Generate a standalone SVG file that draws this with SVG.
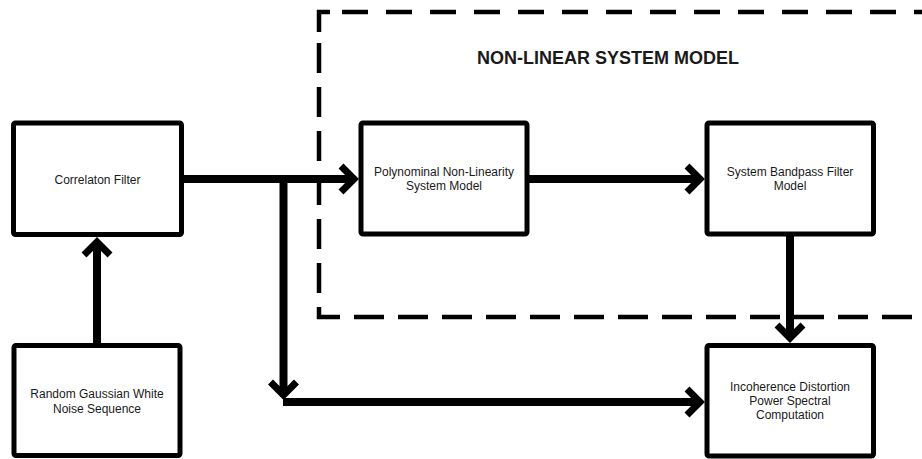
<svg xmlns="http://www.w3.org/2000/svg" width="922" height="459" viewBox="0 0 922 459">
<style>
.box{fill:#fff;stroke:#000;stroke-width:5}
.lbl{font-family:"Liberation Sans",Arial,sans-serif;font-size:12px;fill:#1a1a1a;text-anchor:middle}
.title{font-family:"Liberation Sans",Arial,sans-serif;font-size:18px;font-weight:bold;fill:#1a1a1a;text-anchor:middle}
.dash{fill:none;stroke:#000;stroke-width:4.5}
.conn{fill:none;stroke:#000;stroke-width:8;marker-end:url(#arr)}
</style>
<defs>
<marker id="arr" markerUnits="userSpaceOnUse" markerWidth="40" markerHeight="40" viewBox="-20 -20 40 40" refX="0" refY="0" orient="auto" overflow="visible">
<path d="M-13,-13 L0,0 L-13,13" fill="none" stroke="#000" stroke-width="7" stroke-linejoin="miter"/>
</marker>
</defs>
<rect width="922" height="459" fill="#fff"/>
<g id="group-nonlinear">
<path class="dash" d="M319,32 V12 H330"/>
<path class="dash" d="M342,12 H922" stroke-dasharray="26 18"/>
<path class="dash" d="M319,43 V300" stroke-dasharray="30 14"/>
<path class="dash" d="M319,307 V317 H340"/>
<path class="dash" d="M354,317 H922" stroke-dasharray="30 14"/>
<text class="title" x="608" y="64">NON-LINEAR SYSTEM MODEL</text>
</g>
<g id="connectors">
<path class="conn" d="M181,179 H354"/>
<path class="conn" d="M283.5,179 V395"/>
<path class="conn" d="M283,402 H700"/>
<path class="conn" d="M527,179 H700"/>
<path class="conn" d="M790,234 V338"/>
<path class="conn" d="M97,345 V242"/>
</g>
<g id="correlation-filter">
<rect class="box" x="13.5" y="123" width="168" height="111.5" rx="2"/>
<text class="lbl" x="97.5" y="183.5">Correlaton Filter</text>
</g>
<g id="random-noise">
<rect class="box" x="14" y="345.5" width="166" height="110" rx="2"/>
<text class="lbl" x="97" y="398">Random Gaussian White</text>
<text class="lbl" x="97" y="413">Noise Sequence</text>
</g>
<g id="polynomial">
<rect class="box" x="361" y="123" width="166" height="111" rx="2"/>
<text class="lbl" x="444" y="176">Polynominal Non-Linearity</text>
<text class="lbl" x="444" y="190">System  Model</text>
</g>
<g id="bandpass">
<rect class="box" x="707" y="123" width="166.5" height="111" rx="2"/>
<text class="lbl" x="790" y="176">System Bandpass Filter</text>
<text class="lbl" x="790" y="190">Model</text>
</g>
<g id="incoherence">
<rect class="box" x="707" y="345.5" width="166.5" height="110.5" rx="2"/>
<text class="lbl" x="790" y="391">Incoherence Distortion</text>
<text class="lbl" x="790" y="405">Power Spectral</text>
<text class="lbl" x="790" y="419">Computation</text>
</g>
</svg>
